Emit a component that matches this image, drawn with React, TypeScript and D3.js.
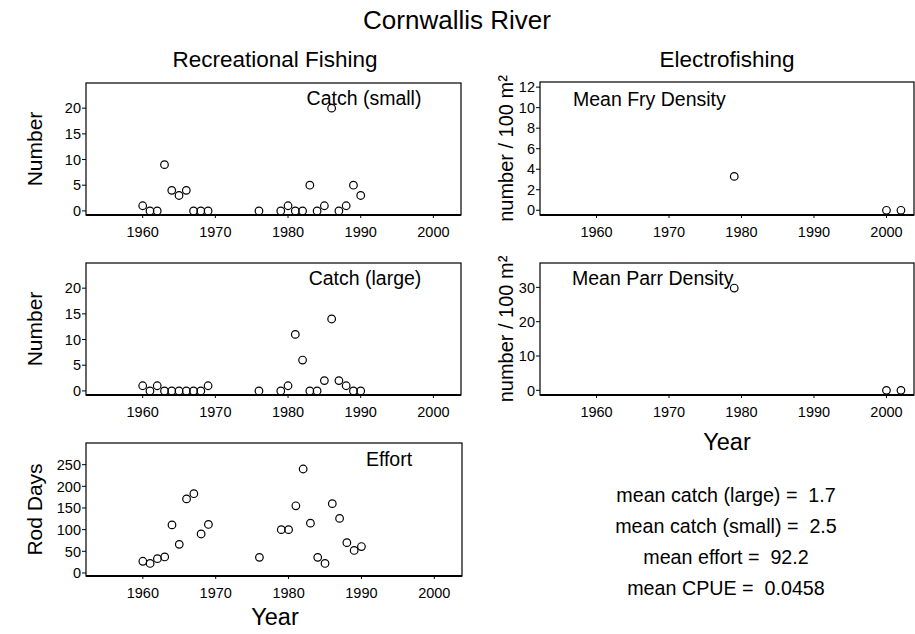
import React from "react";
import * as d3 from "d3";

const years = [1960, 1961, 1962, 1963, 1964, 1965, 1966, 1967, 1968, 1969, 1976, 1979, 1980, 1981, 1982, 1983, 1984, 1985, 1986, 1987, 1988, 1989, 1990];
const catchSmall = [1, 0, 0, 9, 4, 3, 4, 0, 0, 0, 0, 0, 1, 0, 0, 5, 0, 1, 20, 0, 1, 5, 3];
const catchLarge = [1, 0, 1, 0, 0, 0, 0, 0, 0, 1, 0, 0, 1, 11, 6, 0, 0, 2, 14, 2, 1, 0, 0];
const effort = [27, 22, 33, 37, 111, 66, 171, 183, 90, 112, 36, 100, 100, 155, 240, 115, 36, 22, 160, 126, 70, 52, 61];

const efYears = [1979, 2000, 2002];
const fryDensity = [3.3, 0, 0];
const parrDensity = [29.8, 0, 0];

const xTicks = [1960, 1970, 1980, 1990, 2000];
const ticksCatch = [0, 5, 10, 15, 20];
const ticksEffort = [0, 50, 100, 150, 200, 250];
const ticksFry = [0, 2, 4, 6, 8, 10, 12];
const ticksParr = [0, 10, 20, 30];

const statLines = ["mean catch (large) =  1.7", "mean catch (small) =  2.5", "mean effort =  92.2", "mean CPUE =  0.0458"];

const FONT = "Arial, 'Liberation Sans', sans-serif";
const X_DOMAIN: [number, number] = [1952.2, 2003.8];

type Panel = {
  x0: number; x1: number; y0: number; y1: number;
  yDomain: [number, number];
  yTicks: number[];
  xs: number[]; ys: number[];
  label: string; labelX: number; labelY: number; anchor: string;
  yLabel?: string; yLabelX?: number; yLabelSize?: number;
};

const panels: Panel[] = [
  { x0: 86, x1: 461, y0: 83, y1: 215, yDomain: [-0.8, 24.9], yTicks: ticksCatch, xs: years, ys: catchSmall, label: "Catch (small)", labelX: 364, labelY: 105, anchor: "middle", yLabel: "Number", yLabelX: 42, yLabelSize: 21 },
  { x0: 86, x1: 461, y0: 263, y1: 395, yDomain: [-0.8, 24.9], yTicks: ticksCatch, xs: years, ys: catchLarge, label: "Catch (large)", labelX: 365, labelY: 285, anchor: "middle", yLabel: "Number", yLabelX: 42, yLabelSize: 21 },
  { x0: 86, x1: 462, y0: 443, y1: 576, yDomain: [-7, 300], yTicks: ticksEffort, xs: years, ys: effort, label: "Effort", labelX: 389, labelY: 466, anchor: "middle", yLabel: "Rod Days", yLabelX: 42, yLabelSize: 21 },
  { x0: 540, x1: 914, y0: 82, y1: 215, yDomain: [-0.46, 12.5], yTicks: ticksFry, xs: efYears, ys: fryDensity, label: "Mean Fry Density", labelX: 573, labelY: 106, anchor: "start", yLabel: "number / 100 m²", yLabelX: 513, yLabelSize: 20 },
  { x0: 540, x1: 914, y0: 263, y1: 395, yDomain: [-1.36, 37.1], yTicks: ticksParr, xs: efYears, ys: parrDensity, label: "Mean Parr Density", labelX: 572, labelY: 285, anchor: "start", yLabel: "number / 100 m²", yLabelX: 513, yLabelSize: 20 },
];

function PanelView({ p }: { p: Panel }) {
  const x = d3.scaleLinear().domain(X_DOMAIN).range([p.x0, p.x1]);
  const y = d3.scaleLinear().domain(p.yDomain).range([p.y1, p.y0]);
  const cy = (p.y0 + p.y1) / 2;
  return (
    <g>
      <rect x={p.x0} y={p.y0} width={p.x1 - p.x0} height={p.y1 - p.y0} fill="none" stroke="#000" strokeWidth={1.2} />
      <line x1={p.x0} x2={p.x1} y1={p.y1} y2={p.y1} stroke="#000" strokeWidth={2} />
      {p.yTicks.map((t) => (
        <g key={"y" + t}>
          <line x1={p.x0 - 4} x2={p.x0} y1={y(t)} y2={y(t)} stroke="#000" strokeWidth={1} />
          <text x={p.x0 - 5} y={y(t)} dy="0.36em" textAnchor="end" fontSize={14.5} fontFamily={FONT}>{t}</text>
        </g>
      ))}
      {xTicks.map((t) => (
        <g key={"x" + t}>
          <line x1={x(t)} x2={x(t)} y1={p.y1} y2={p.y1 + 3} stroke="#000" strokeWidth={1} />
          <text x={x(t)} y={p.y1 + 22} textAnchor="middle" fontSize={14.5} fontFamily={FONT}>{t}</text>
        </g>
      ))}
      <text x={p.labelX} y={p.labelY} textAnchor={p.anchor as any} fontSize={19.5} fontFamily={FONT}>{p.label}</text>
      {p.xs.map((xv, i) => (
        <circle key={"c" + i} cx={x(xv)} cy={y(p.ys[i])} r={3.8} fill="none" stroke="#000" strokeWidth={1.2} />
      ))}
      {p.yLabel && (
        <text transform={`translate(${p.yLabelX},${cy}) rotate(-90)`} textAnchor="middle" fontSize={p.yLabelSize} fontFamily={FONT}>{p.yLabel}</text>
      )}
    </g>
  );
}

export default function App() {
  return (
    <svg width={915} height={634} style={{ position: "absolute", left: 0, top: 0, background: "#fff" }}>
      <rect x={0} y={0} width={915} height={634} fill="#fff" />
      <text x={457} y={29} textAnchor="middle" fontSize={26} fontFamily={FONT}>Cornwallis River</text>
      <text x={275} y={67} textAnchor="middle" fontSize={22.5} fontFamily={FONT}>Recreational Fishing</text>
      <text x={727} y={67} textAnchor="middle" fontSize={22.5} fontFamily={FONT}>Electrofishing</text>
      {panels.map((p, i) => <PanelView key={i} p={p} />)}
      <text x={275} y={625} textAnchor="middle" fontSize={23.5} fontFamily={FONT}>Year</text>
      <text x={727} y={450} textAnchor="middle" fontSize={23.5} fontFamily={FONT}>Year</text>
      {statLines.map((s, i) => (
        <text key={s} x={726} y={502 + i * 31} textAnchor="middle" fontSize={19.7} fontFamily={FONT} xmlSpace="preserve" style={{ whiteSpace: "pre" }}>{s}</text>
      ))}
    </svg>
  );
}
